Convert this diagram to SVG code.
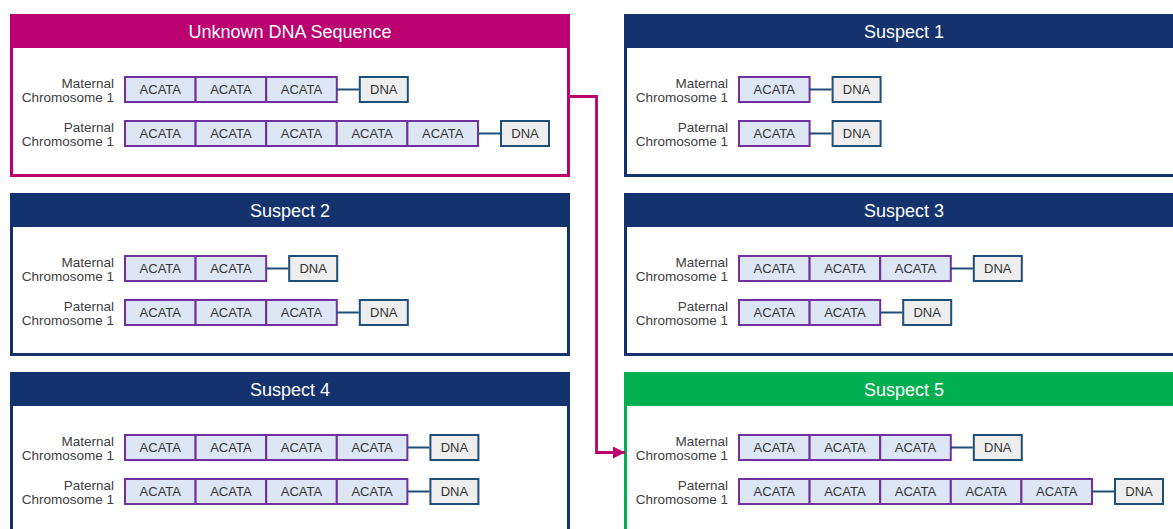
<svg xmlns="http://www.w3.org/2000/svg" width="1173" height="529" viewBox="0 0 1173 529">
<style>
text{font-family:"Liberation Sans",Arial,sans-serif}
.title{font-size:18px;fill:#ffffff;text-anchor:middle}
.lbl{font-size:13.5px;fill:#404040;text-anchor:end}
.ct{font-size:13px;fill:#333333;text-anchor:middle}
.cell{fill:#dce6f4;stroke:#7030a0;stroke-width:2}
.dna{fill:#eeeeee;stroke:#1f4e79;stroke-width:2}
.lnk{stroke:#1f4e79;stroke-width:2;fill:none}
.frame{fill:#ffffff;stroke-width:3}
.navy .frame{stroke:#14336e}.navy .hdr{fill:#14336e}
.mag .frame{stroke:#bb0070}.mag .hdr{fill:#bb0070}
.grn .frame{stroke:#00b050}.grn .hdr{fill:#00b050}
</style>
<defs>
<marker id="arr" markerUnits="userSpaceOnUse" markerWidth="12" markerHeight="12" refX="12" refY="6" orient="auto">
<path d="M0,0 L12,6 L0,12 z" fill="#bb0070"/>
</marker>
<g id="c1"><rect class="cell" x="115" y="1" width="70.6" height="25"/><text class="ct" x="150.3" y="18">ACATA</text></g>
<g id="c2"><use href="#c1"/><rect class="cell" x="185.6" y="1" width="70.6" height="25"/><text class="ct" x="220.9" y="18">ACATA</text></g>
<g id="c3"><use href="#c2"/><rect class="cell" x="256.2" y="1" width="70.6" height="25"/><text class="ct" x="291.5" y="18">ACATA</text></g>
<g id="c4"><use href="#c3"/><rect class="cell" x="326.8" y="1" width="70.6" height="25"/><text class="ct" x="362.1" y="18">ACATA</text></g>
<g id="c5"><use href="#c4"/><rect class="cell" x="397.4" y="1" width="70.6" height="25"/><text class="ct" x="432.7" y="18">ACATA</text></g>
<g id="d1"><line class="lnk" x1="185.6" y1="13.5" x2="207.6" y2="13.5"/><rect class="dna" x="208.6" y="1" width="48" height="25"/><text class="ct" x="232.6" y="18">DNA</text></g>
<g id="d2"><line class="lnk" x1="256.2" y1="13.5" x2="278.2" y2="13.5"/><rect class="dna" x="279.2" y="1" width="48" height="25"/><text class="ct" x="303.2" y="18">DNA</text></g>
<g id="d3"><line class="lnk" x1="326.8" y1="13.5" x2="348.8" y2="13.5"/><rect class="dna" x="349.8" y="1" width="48" height="25"/><text class="ct" x="373.8" y="18">DNA</text></g>
<g id="d4"><line class="lnk" x1="397.4" y1="13.5" x2="419.4" y2="13.5"/><rect class="dna" x="420.4" y="1" width="48" height="25"/><text class="ct" x="444.4" y="18">DNA</text></g>
<g id="d5"><line class="lnk" x1="468" y1="13.5" x2="490" y2="13.5"/><rect class="dna" x="491" y="1" width="48" height="25"/><text class="ct" x="515" y="18">DNA</text></g>
<g id="matlbl"><text class="lbl" x="104" y="11.5">Maternal</text><text class="lbl" x="104" y="26">Chromosome 1</text></g>
<g id="patlbl"><text class="lbl" x="104" y="11.5">Paternal</text><text class="lbl" x="104" y="26">Chromosome 1</text></g>
</defs>

<g id="unknown" class="mag" transform="translate(10,14)">
<rect class="frame" x="1.5" y="1.5" width="557" height="160"/>
<rect class="hdr" x="0" y="0" width="560" height="34"/>
<text class="title" x="280" y="24">Unknown DNA Sequence</text>
<g transform="translate(0,62)"><use href="#matlbl"/><use href="#c3"/><use href="#d3"/></g>
<g transform="translate(0,106)"><use href="#patlbl"/><use href="#c5"/><use href="#d5"/></g>
</g>

<g id="suspect1" class="navy" transform="translate(624,14)">
<rect class="frame" x="1.5" y="1.5" width="557" height="160"/>
<rect class="hdr" x="0" y="0" width="560" height="34"/>
<text class="title" x="280" y="24">Suspect 1</text>
<g transform="translate(0,62)"><use href="#matlbl"/><use href="#c1"/><use href="#d1"/></g>
<g transform="translate(0,106)"><use href="#patlbl"/><use href="#c1"/><use href="#d1"/></g>
</g>

<g id="suspect2" class="navy" transform="translate(10,193)">
<rect class="frame" x="1.5" y="1.5" width="557" height="160"/>
<rect class="hdr" x="0" y="0" width="560" height="34"/>
<text class="title" x="280" y="24">Suspect 2</text>
<g transform="translate(0,62)"><use href="#matlbl"/><use href="#c2"/><use href="#d2"/></g>
<g transform="translate(0,106)"><use href="#patlbl"/><use href="#c3"/><use href="#d3"/></g>
</g>

<g id="suspect3" class="navy" transform="translate(624,193)">
<rect class="frame" x="1.5" y="1.5" width="557" height="160"/>
<rect class="hdr" x="0" y="0" width="560" height="34"/>
<text class="title" x="280" y="24">Suspect 3</text>
<g transform="translate(0,62)"><use href="#matlbl"/><use href="#c3"/><use href="#d3"/></g>
<g transform="translate(0,106)"><use href="#patlbl"/><use href="#c2"/><use href="#d2"/></g>
</g>

<g id="suspect4" class="navy" transform="translate(10,372)">
<rect class="frame" x="1.5" y="1.5" width="557" height="160"/>
<rect class="hdr" x="0" y="0" width="560" height="34"/>
<text class="title" x="280" y="24">Suspect 4</text>
<g transform="translate(0,62)"><use href="#matlbl"/><use href="#c4"/><use href="#d4"/></g>
<g transform="translate(0,106)"><use href="#patlbl"/><use href="#c4"/><use href="#d4"/></g>
</g>

<g id="suspect5" class="grn" transform="translate(624,372)">
<rect class="frame" x="1.5" y="1.5" width="557" height="160"/>
<rect class="hdr" x="0" y="0" width="560" height="34"/>
<text class="title" x="280" y="24">Suspect 5</text>
<g transform="translate(0,62)"><use href="#matlbl"/><use href="#c3"/><use href="#d3"/></g>
<g transform="translate(0,106)"><use href="#patlbl"/><use href="#c5"/><use href="#d5"/></g>
</g>

<g id="connectors">
<path d="M570,96.5 H596.5 V452.5 H625" fill="none" stroke="#bb0070" stroke-width="2.8" marker-end="url(#arr)"/>
</g>
</svg>
